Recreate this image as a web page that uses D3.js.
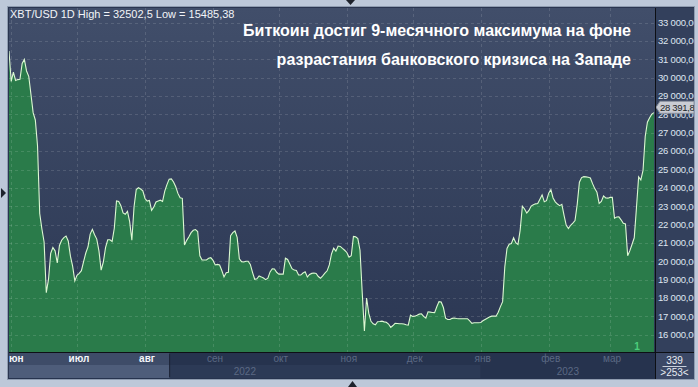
<!DOCTYPE html>
<html>
<head>
<meta charset="utf-8">
<script src="https://cdn.jsdelivr.net/npm/d3@7"></script>
<style>
  body { margin: 0; background: #bdc8d9; }
  svg { display: block; font-family: "Liberation Sans", Arial, sans-serif; }
</style>
</head>
<body>
<svg id="chart"></svg>
<script>
// daily closes, XBT/USD, starting 31 May 2022
const startDate = new Date(2022, 4, 31);
const closeMay = [31460];
const closeJun = [29800, 30300, 29850, 29900, 29915, 30780, 31000, 30370, 30080, 29100,
  28100, 27700, 26300, 22600, 21760, 21050, 18290, 19010, 20430, 20750,
  20570, 19910, 20860, 21150, 21290, 21370, 21110, 20280, 19740, 18930];
const closeJul = [19230, 19340, 19490, 19980, 20450, 20780, 21480, 21740, 21450, 21210,
  20570, 19520, 19960, 20740, 21170, 21170, 21080, 21800, 23290, 23255,
  23030, 22640, 22560, 22720, 22160, 21150, 22970, 23910, 24005, 23940, 23840];
const closeAug = [23420, 23280, 23310, 22780, 22960, 23230, 23290, 23330, 23260, 23820,
  24180, 24475, 24490, 24320, 24060, 23700, 23460, 23430, 20890, 21140,
  21340, 21560, 21690, 21730, 21620, 20300, 20070, 20070, 20070, 20160, 20200];
const closeSep = [20050, 19800, 19830, 19800, 19500, 19150, 19380, 19400, 21400, 21560,
  21650, 21300, 20140, 19980, 19960, 20000, 20000, 19830, 19400, 19020,
  19050, 19200, 19150, 19090, 19000, 19080, 19420, 19590, 19580, 19400];
const closeOct = [19300, 19300, 19300, 20170, 20100, 19850, 19600, 19520, 19500, 19250,
  19250, 19360, 19430, 19140, 19280, 19340, 19360, 19340, 19170, 19080,
  19200, 19350, 19480, 19800, 20400, 20720, 20550, 20830, 20810, 20700, 20600];
const closeNov = [20480, 20220, 20300, 21350, 21330, 21240, 20600, 18300, 16200, 18000,
  17160, 16730, 16590, 16540, 16710, 16720, 16740, 16700, 16680, 16580,
  16400, 16500, 16620, 16610, 16600, 16600, 16580, 16540, 16520, 17070];
const closeDec = [16990, 17010, 17060, 17120, 17140, 17000, 16900, 17250, 17230, 17210,
  17200, 17520, 17800, 17780, 17480, 16900, 16830, 16830, 16890, 16910,
  16880, 16870, 16870, 16870, 16870, 16870, 16750, 16620, 16650, 16650, 16650];
const closeJan = [16660, 16760, 16830, 16900, 16960, 17010, 17010, 17010, 17220, 17530,
  17800, 19700, 20700, 20930, 20970, 21280, 21010, 20920, 21700, 23000,
  22850, 22630, 22770, 23010, 23080, 23130, 23150, 23380, 23620, 23240, 23300];
const closeFeb = [23710, 23900, 23450, 23240, 23120, 23030, 23100, 22500, 21960, 21780,
  21960, 22080, 22220, 23100, 24310, 24560, 24610, 24600, 24575, 24540,
  24230, 23960, 23760, 23150, 23260, 23560, 23450, 23440];
const closeMar = [23480, 23480, 22350, 22410, 22420, 22260, 22070, 22030, 20300, 20580,
  20930, 21280, 22900, 24600, 24430, 24950, 26800, 27580, 27820, 28020, 28100];

const monthNames = ["янв", "фев", "мар", "апр", "май", "июн", "июл", "авг", "сен", "окт", "ноя", "дек"];
const yTicks = d3.range(16000, 33001, 1000);
const lastPrice = 28391.8;
const headerText = "XBT/USD 1D High = 32502,5 Low = 15485,38";
const titleLines = ["Биткоин достиг 9-месячного максимума на фоне", "разрастания банковского кризиса на Западе"];
const barCount = "339", barRange = ">253<";
const scrollEnd = new Date(2022, 7, 12);

const W = 698, H = 387;
const plot = { left: 9, top: 8, right: 655, bottom: 352 };
const axisRight = 694, axisBottom = 379;

const closes = [].concat(closeMay, closeJun, closeJul, closeAug, closeSep, closeOct,
  closeNov, closeDec, closeJan, closeFeb, closeMar);
const data = closes.map((v, i) => ({ date: d3.timeDay.offset(startDate, i), value: v }));

const x = d3.scaleTime()
  .domain([startDate, d3.timeHour.offset(d3.timeDay.offset(startDate, 294), 11)])
  .range([plot.left, plot.right]);
const y = d3.scaleLinear()
  .domain([15057, 33801])
  .range([plot.bottom, plot.top]);

const ru = d3.formatLocale({ decimal: ",", thousands: " ", grouping: [3], currency: ["", ""] });
const fmt = ru.format(",.2f");

const svg = d3.select("#chart").attr("width", W).attr("height", H);
const defs = svg.append("defs");

const grad = defs.append("linearGradient").attr("id", "bg").attr("x1", 0).attr("y1", 0).attr("x2", 0).attr("y2", 1);
grad.append("stop").attr("offset", "0%").attr("stop-color", "#414e6a");
grad.append("stop").attr("offset", "100%").attr("stop-color", "#2b3753");

defs.append("clipPath").attr("id", "plotClip").append("rect")
  .attr("x", plot.left).attr("y", plot.top)
  .attr("width", plot.right - plot.left).attr("height", plot.bottom - plot.top);
defs.append("clipPath").attr("id", "rightClip").append("rect")
  .attr("x", plot.right).attr("y", plot.top - 1)
  .attr("width", axisRight - plot.right).attr("height", axisBottom - plot.top + 1);
defs.append("clipPath").attr("id", "bottomClip").append("rect")
  .attr("x", plot.left).attr("y", plot.bottom)
  .attr("width", plot.right - plot.left).attr("height", axisBottom - plot.bottom);

// frame
svg.append("rect")
  .attr("x", plot.left - 1.5).attr("y", plot.top - 1.5)
  .attr("width", axisRight - plot.left + 2).attr("height", axisBottom - plot.top + 2)
  .attr("fill", "#2a3550").attr("stroke", "#8f9cb0");

// plot background
svg.append("rect")
  .attr("x", plot.left).attr("y", plot.top)
  .attr("width", plot.right - plot.left).attr("height", plot.bottom - plot.top)
  .attr("fill", "url(#bg)");

const g = svg.append("g").attr("clip-path", "url(#plotClip)");

g.append("path")
  .datum(data)
  .attr("fill", "#2a7b4a")
  .attr("d", d3.area().x(d => x(d.date)).y0(plot.bottom).y1(d => y(d.value)));

g.append("path")
  .datum(data)
  .attr("fill", "none")
  .attr("stroke", "#dcf8d2")
  .attr("stroke-width", 1.1)
  .attr("d", d3.line().x(d => x(d.date)).y(d => y(d.value)));

// grid on top
const months = d3.timeMonth.range(d3.timeMonth.ceil(startDate), x.domain()[1]);
g.selectAll(".hgrid").data(yTicks).enter().append("line")
  .attr("x1", plot.left).attr("x2", plot.right)
  .attr("y1", d => Math.round(y(d)) + 0.5).attr("y2", d => Math.round(y(d)) + 0.5)
  .attr("stroke", "#ffffff").attr("stroke-opacity", 0.13).attr("stroke-dasharray", "3,3");
g.selectAll(".vgrid").data(months).enter().append("line")
  .attr("x1", d => Math.round(x(d)) + 0.5).attr("x2", d => Math.round(x(d)) + 0.5)
  .attr("y1", plot.top).attr("y2", plot.bottom)
  .attr("stroke", "#ffffff").attr("stroke-opacity", 0.13).attr("stroke-dasharray", "3,3");

// header + title
svg.append("text").attr("x", 10).attr("y", 18)
  .attr("fill", "#f2f4f8").attr("font-size", 11).text(headerText);
svg.selectAll(".title").data(titleLines).enter().append("text")
  .attr("x", 631).attr("y", (d, i) => 36 + i * 29)
  .attr("text-anchor", "end")
  .attr("fill", "#ffffff").attr("font-size", 16).attr("font-weight", "bold")
  .text(d => d);

svg.append("text").attr("x", 637).attr("y", 350)
  .attr("text-anchor", "middle")
  .attr("fill", "#4ccf7c").attr("font-size", 10).attr("font-weight", "bold").text("1");

// right axis
svg.append("rect")
  .attr("x", plot.right).attr("y", plot.top)
  .attr("width", axisRight - plot.right).attr("height", plot.bottom - plot.top)
  .attr("fill", "#33405c");
const ra = svg.append("g").attr("clip-path", "url(#rightClip)");
ra.selectAll(".ylab").data(yTicks).enter().append("text")
  .attr("x", plot.right + 3).attr("y", d => y(d)).attr("dy", "0.35em")
  .attr("fill", "#dfe6f1").attr("font-size", 9.5).attr("letter-spacing", -0.2).text(d => fmt(d));

const py = y(lastPrice);
ra.append("path")
  .attr("d", `M${plot.right + 1},${py} L${plot.right + 5},${py - 6} L${axisRight},${py - 6} L${axisRight},${py + 6} L${plot.right + 5},${py + 6} Z`)
  .attr("fill", "#c9ccd3").attr("stroke", "#8a919e");
ra.append("text").attr("x", plot.right + 5).attr("y", py).attr("dy", "0.35em")
  .attr("fill", "#1b1f27").attr("font-size", 9.5).attr("letter-spacing", -0.3)
  .text(ru.format(",.1f")(lastPrice));

svg.append("line")
  .attr("x1", plot.right + 0.5).attr("x2", plot.right + 0.5)
  .attr("y1", plot.top).attr("y2", axisBottom)
  .attr("stroke", "#0d0f14");

// bottom axis
const ba = svg.append("g").attr("clip-path", "url(#bottomClip)");
const midRow = plot.bottom + 13;
ba.append("rect").attr("x", plot.left).attr("y", plot.bottom)
  .attr("width", plot.right - plot.left).attr("height", axisBottom - plot.bottom)
  .attr("fill", "#26334e");
const years = [startDate, new Date(2023, 0, 1)];
ba.selectAll(".yband").data(years).enter().append("rect")
  .attr("x", d => Math.max(plot.left, x(d)))
  .attr("y", midRow)
  .attr("width", (d, i) => (i === 0 ? x(years[1]) : plot.right) - Math.max(plot.left, x(d)))
  .attr("height", axisBottom - midRow - 1)
  .attr("fill", (d, i) => i === 0 ? "#2c3a56" : "#26334e");
ba.append("rect").attr("x", plot.left).attr("y", plot.bottom)
  .attr("width", x(scrollEnd) - plot.left).attr("height", midRow - plot.bottom)
  .attr("fill", "#3e4c68");
ba.append("rect").attr("x", plot.left).attr("y", midRow)
  .attr("width", x(scrollEnd) - plot.left).attr("height", axisBottom - midRow - 1)
  .attr("fill", "#4e5d7a");
ba.append("line")
  .attr("x1", x(scrollEnd) + 0.5).attr("x2", x(scrollEnd) + 0.5)
  .attr("y1", plot.bottom + 2).attr("y2", axisBottom - 2)
  .attr("stroke", "#1c2436");

ba.selectAll(".mlab").data(d3.timeMonth.range(d3.timeMonth.floor(startDate), x.domain()[1]).slice(1)).enter().append("text")
  .attr("x", d => x(d) + 2).attr("y", midRow - 3)
  .attr("text-anchor", "middle")
  .attr("font-size", 10)
  .attr("fill", d => x(d) < x(scrollEnd) ? "#f4f6fa" : "#5b6984")
  .attr("font-weight", d => x(d) < x(scrollEnd) ? "bold" : "normal")
  .text(d => monthNames[d.getMonth()]);

ba.selectAll(".ylab2").data(years).enter().append("text")
  .attr("x", (d, i) => (Math.max(plot.left, x(d)) + (i === 0 ? x(years[1]) : plot.right)) / 2)
  .attr("y", axisBottom - 4)
  .attr("text-anchor", "middle").attr("font-size", 10).attr("fill", "#5b6984")
  .text(d => d.getFullYear());

svg.append("line")
  .attr("x1", plot.left).attr("x2", axisRight)
  .attr("y1", plot.bottom + 0.5).attr("y2", plot.bottom + 0.5)
  .attr("stroke", "#0d0f14");

// corner box
svg.append("rect").attr("x", plot.right + 1).attr("y", plot.bottom + 1)
  .attr("width", axisRight - plot.right - 1).attr("height", axisBottom - plot.bottom - 1)
  .attr("fill", "#3b4866");
const cx = (plot.right + axisRight) / 2;
svg.append("text").attr("x", cx).attr("y", plot.bottom + 12).attr("text-anchor", "middle")
  .attr("fill", "#e8ecf3").attr("font-size", 10).text(barCount);
svg.append("line").attr("x1", cx - 12).attr("x2", cx + 12)
  .attr("y1", plot.bottom + 14.5).attr("y2", plot.bottom + 14.5).attr("stroke", "#c8cfdb");
svg.append("text").attr("x", cx).attr("y", plot.bottom + 24).attr("text-anchor", "middle")
  .attr("fill", "#e8ecf3").attr("font-size", 10).text(barRange);

// small navigation markers
svg.append("path").attr("d", "M1,188 L6,193 L1,198 Z").attr("fill", "#1d222c");
svg.append("path").attr("d", "M346,0 L355,0 L350.5,5 Z").attr("fill", "#1d222c");
svg.append("path").attr("d", "M348,387 L357,387 L352.5,381 Z").attr("fill", "#1d222c");
</script>
</body>
</html>
